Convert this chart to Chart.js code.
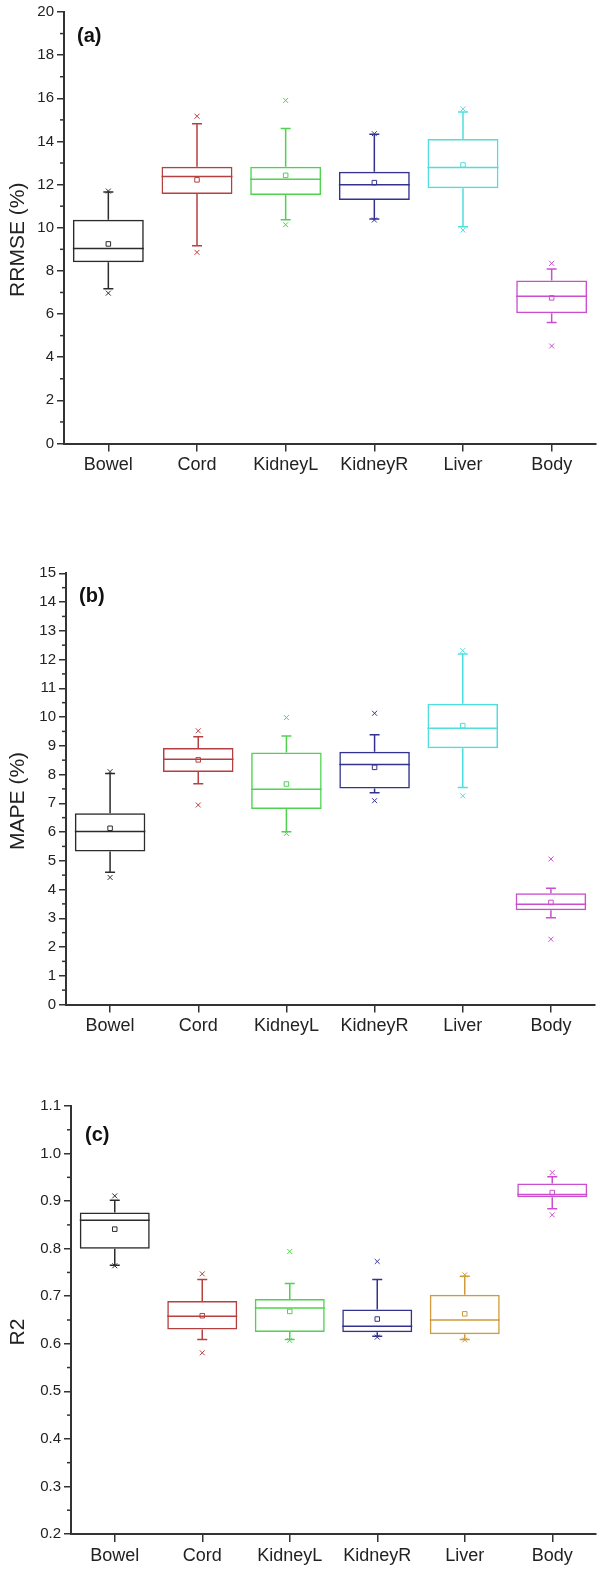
<!DOCTYPE html>
<html>
<head>
<meta charset="utf-8">
<script src="https://cdn.jsdelivr.net/npm/chart.js@4"></script>
<style>
    body { margin: 0; background: #fff; width: 601px; height: 1574px; position: relative; }
    canvas { position: absolute; left: 0; }
</style>
</head>
<body>
<canvas id="chartA" width="601" height="500" style="top:0px"></canvas>
<canvas id="chartB" width="601" height="530" style="top:520px"></canvas>
<canvas id="chartC" width="601" height="514" style="top:1060px"></canvas>
<script>
// categorias
const organs = ["Bowel", "Cord", "KidneyL", "KidneyR", "Liver", "Body"]

// colores de cada caja
const colorsAB = ["#2b2b2b", "#b5403f", "#4fd34f", "#33338f", "#4fdede", "#c94fcf"]
const colorsC = ["#2b2b2b", "#b5403f", "#4fd34f", "#33338f", "#d09b3c", "#c94fcf"]

// (a) RRMSE (%)
const rrmseQ1 = [8.40, 11.56, 11.52, 11.29, 11.83, 6.04]
const rrmseMedian = [9.04, 12.37, 12.25, 11.99, 12.79, 6.83]
const rrmseQ3 = [10.37, 12.83, 12.83, 12.59, 14.11, 7.55]
const rrmseMean = [9.25, 12.22, 12.43, 12.09, 12.91, 6.75]
const rrmseWhiskerLow = [7.17, 9.17, 10.37, 10.40, 10.05, 5.61]
const rrmseWhiskerHigh = [11.66, 14.82, 14.60, 14.33, 15.36, 8.09]
const rrmseMin = [6.97, 8.86, 10.14, 10.36, 9.89, 4.52]
const rrmseMax = [11.70, 15.17, 15.90, 14.36, 15.51, 8.35]

// (b) MAPE (%)
const mapeQ1 = [5.32, 8.09, 6.80, 7.51, 8.91, 3.28]
const mapeMedian = [6.02, 8.53, 7.49, 8.35, 9.61, 3.49]
const mapeQ3 = [6.65, 8.92, 8.77, 8.79, 10.46, 3.87]
const mapeMean = [6.13, 8.51, 7.67, 8.25, 9.70, 3.55]
const mapeWhiskerLow = [4.60, 7.68, 6.01, 7.37, 7.55, 3.02]
const mapeWhiskerHigh = [8.04, 9.31, 9.34, 9.38, 12.19, 4.04]
const mapeMin = [4.42, 6.94, 5.95, 7.09, 7.26, 2.27]
const mapeMax = [8.10, 9.52, 9.98, 10.13, 12.31, 5.06]

// (c) R2
const r2Q1 = [0.800, 0.630, 0.625, 0.624, 0.620, 0.908]
const r2Median = [0.860, 0.658, 0.675, 0.637, 0.650, 0.914]
const r2Q3 = [0.876, 0.690, 0.694, 0.672, 0.703, 0.937]
const r2Mean = [0.841, 0.659, 0.668, 0.652, 0.663, 0.918]
const r2WhiskerLow = [0.765, 0.609, 0.609, 0.616, 0.609, 0.884]
const r2WhiskerHigh = [0.902, 0.735, 0.727, 0.735, 0.742, 0.951]
const r2Min = [0.764, 0.581, 0.607, 0.614, 0.608, 0.871]
const r2Max = [0.911, 0.747, 0.794, 0.773, 0.745, 0.960]

const FONT = "'Liberation Sans', Arial, sans-serif"
const AXIS = "#333"

// bigotes, medianas, ticks menores y textos
const boxPlugin = {
    id: "boxExtras",
    afterDatasetsDraw(chart) {
        const o = chart.options.plugins.boxExtras
        const x = chart.scales.x, y = chart.scales.y
        const ctx = chart.ctx
        const bars = chart.getDatasetMeta(0).data
        ctx.save()
        ctx.lineWidth = 1.5
        organs.forEach((_, i) => {
            const cx = x.getPixelForValue(i)
            const half = bars[i].width / 2
            ctx.strokeStyle = o.colors[i]
            ctx.beginPath()
            // mediana
            ctx.moveTo(cx - half, y.getPixelForValue(o.median[i]))
            ctx.lineTo(cx + half, y.getPixelForValue(o.median[i]))
            // bigote superior
            ctx.moveTo(cx, y.getPixelForValue(o.q3[i]))
            ctx.lineTo(cx, y.getPixelForValue(o.whHigh[i]))
            ctx.moveTo(cx - 5, y.getPixelForValue(o.whHigh[i]))
            ctx.lineTo(cx + 5, y.getPixelForValue(o.whHigh[i]))
            // bigote inferior
            ctx.moveTo(cx, y.getPixelForValue(o.q1[i]))
            ctx.lineTo(cx, y.getPixelForValue(o.whLow[i]))
            ctx.moveTo(cx - 5, y.getPixelForValue(o.whLow[i]))
            ctx.lineTo(cx + 5, y.getPixelForValue(o.whLow[i]))
            ctx.stroke()
        })
        ctx.restore()
    },
    afterDraw(chart) {
        const o = chart.options.plugins.boxExtras
        const y = chart.scales.y
        const area = chart.chartArea
        const ctx = chart.ctx
        ctx.save()
        // ticks menores
        ctx.strokeStyle = AXIS
        ctx.lineWidth = 1.5
        const n = Math.round((y.max - y.min) / o.minor)
        for (let k = 0; k <= n; k++) {
            const v = y.min + k * o.minor
            if (k % 2 === 0) continue
            const py = y.getPixelForValue(v)
            ctx.beginPath()
            ctx.moveTo(area.left - 4, py)
            ctx.lineTo(area.left, py)
            ctx.stroke()
        }
        // titulo eje y
        ctx.fillStyle = "#222"
        ctx.font = "21px " + FONT
        ctx.textAlign = "center"
        ctx.textBaseline = "middle"
        ctx.translate(18, (area.top + area.bottom) / 2 + 12)
        ctx.rotate(-Math.PI / 2)
        ctx.fillText(o.title, 0, 0)
        ctx.restore()
        // etiqueta del panel
        ctx.save()
        ctx.fillStyle = "#111"
        ctx.font = "bold 20px " + FONT
        ctx.textAlign = "left"
        ctx.textBaseline = "middle"
        ctx.fillText(o.label, area.left + o.labelDx, area.top + o.labelDy)
        ctx.restore()
    }
}

function createBoxChart(id, d) {
    const ctx = document.getElementById(id)
    new Chart(ctx, {
        data: {
            labels: organs,
            datasets: [{
                type: "bar",
                data: organs.map((_, i) => [d.q1[i], d.q3[i]]),
                backgroundColor: "rgba(0,0,0,0)",
                borderColor: d.colors,
                borderWidth: 1.5,
                borderSkipped: false,
                barPercentage: 0.8,
                categoryPercentage: 1.0
            }, {
                type: "line",
                data: d.mean,
                showLine: false,
                pointStyle: "rect",
                pointRadius: 3.2,
                pointBorderWidth: 1,
                pointBorderColor: d.colors,
                pointBackgroundColor: "rgba(0,0,0,0)"
            }, {
                type: "line",
                data: d.min,
                showLine: false,
                pointStyle: "crossRot",
                pointRadius: 3.5,
                pointBorderWidth: 1,
                pointBorderColor: d.colors
            }, {
                type: "line",
                data: d.max,
                showLine: false,
                pointStyle: "crossRot",
                pointRadius: 3.5,
                pointBorderWidth: 1,
                pointBorderColor: d.colors
            }]
        },
        options: {
            responsive: false,
            animation: false,
            devicePixelRatio: 1,
            layout: { padding: d.padding },
            plugins: {
                legend: { display: false },
                tooltip: { enabled: false },
                boxExtras: d
            },
            scales: {
                x: {
                    type: "category",
                    offset: true,
                    afterFit: s => { s.height = 40 },
                    border: { color: AXIS, width: 2 },
                    grid: { offset: false, drawOnChartArea: false, tickLength: 8, color: AXIS, lineWidth: 1.5 },
                    ticks: { color: "#222", font: { family: FONT, size: 18 }, padding: 3, maxRotation: 0 }
                },
                y: {
                    min: d.yMin,
                    max: d.yMax,
                    afterFit: s => { s.width = d.axisLeft },
                    border: { color: AXIS, width: 2 },
                    grid: { drawOnChartArea: false, tickLength: 7, color: AXIS, lineWidth: 1.5 },
                    ticks: {
                        stepSize: d.major,
                        color: "#222",
                        padding: 3,
                        font: { family: FONT, size: 15 },
                        callback: v => d.decimals ? Number(v).toFixed(d.decimals) : v
                    }
                }
            }
        },
        plugins: [boxPlugin]
    })
}

createBoxChart("chartA", {
    q1: rrmseQ1, median: rrmseMedian, q3: rrmseQ3, mean: rrmseMean,
    whLow: rrmseWhiskerLow, whHigh: rrmseWhiskerHigh, min: rrmseMin, max: rrmseMax,
    colors: colorsAB, yMin: 0, yMax: 20, major: 2, minor: 1, decimals: 0,
    title: "RRMSE (%)", label: "(a)", labelDx: 13, labelDy: 24,
    axisLeft: 64, padding: { top: 10.7, right: 4, bottom: 16.5, left: 0 }
})

createBoxChart("chartB", {
    q1: mapeQ1, median: mapeMedian, q3: mapeQ3, mean: mapeMean,
    whLow: mapeWhiskerLow, whHigh: mapeWhiskerHigh, min: mapeMin, max: mapeMax,
    colors: colorsAB, yMin: 0, yMax: 15, major: 1, minor: 0.5, decimals: 0,
    title: "MAPE (%)", label: "(b)", labelDx: 13, labelDy: 23,
    axisLeft: 66, padding: { top: 53.3, right: 6, bottom: 5.5, left: 0 }
})

createBoxChart("chartC", {
    q1: r2Q1, median: r2Median, q3: r2Q3, mean: r2Mean,
    whLow: r2WhiskerLow, whHigh: r2WhiskerHigh, min: r2Min, max: r2Max,
    colors: colorsC, yMin: 0.2, yMax: 1.1, major: 0.1, minor: 0.05, decimals: 1,
    title: "R2", label: "(c)", labelDx: 14, labelDy: 29,
    axisLeft: 71, padding: { top: 46, right: 4, bottom: 0, left: 0 }
})
</script>
</body>
</html>
